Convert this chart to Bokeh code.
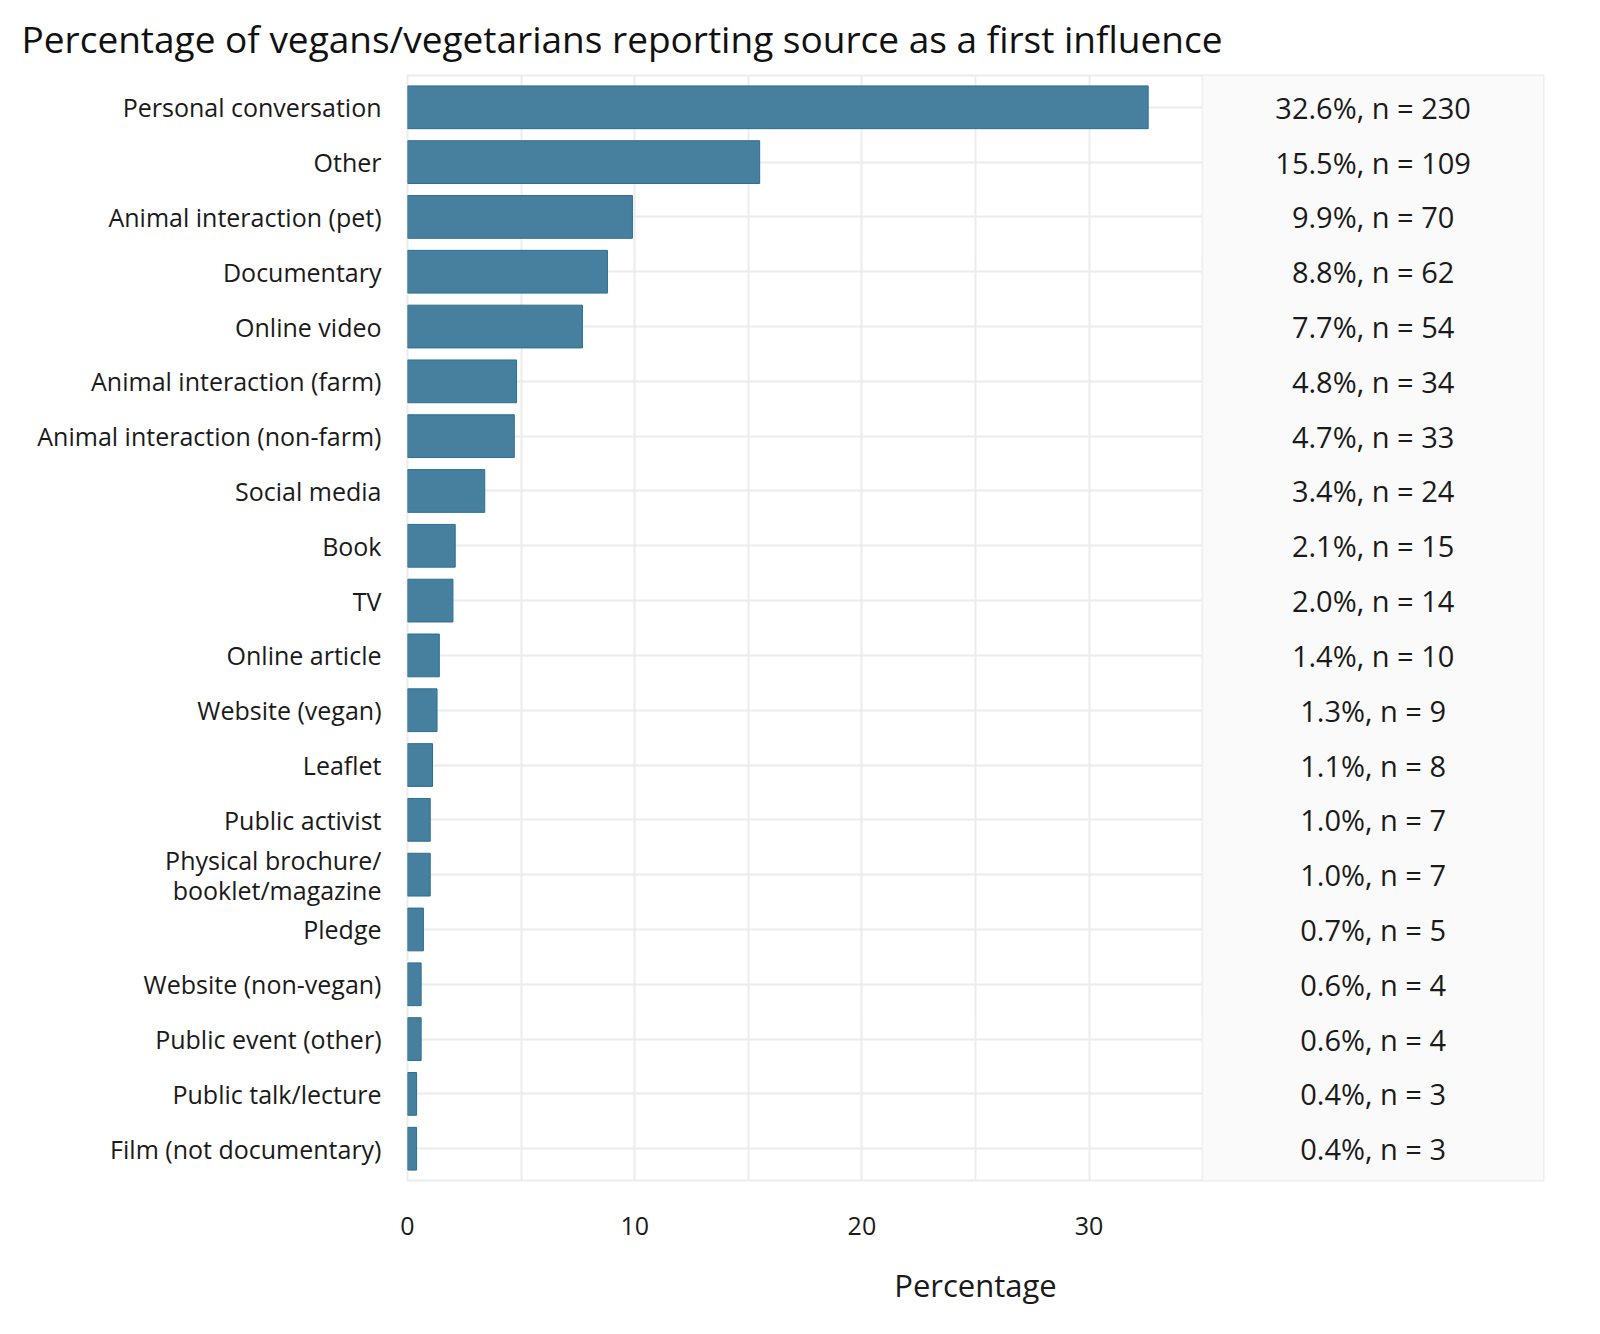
from bokeh.plotting import figure
from bokeh.models import ColumnDataSource, FactorRange, Range1d, FixedTicker, BoxAnnotation
from bokeh.core.properties import value
from bokeh.embed import file_html
from bokeh.resources import INLINE

categories = [
    "Personal conversation", "Other", "Animal interaction (pet)", "Documentary",
    "Online video", "Animal interaction (farm)", "Animal interaction (non-farm)",
    "Social media", "Book", "TV", "Online article", "Website (vegan)", "Leaflet",
    "Public activist", "Physical brochure/\nbooklet/magazine", "Pledge",
    "Website (non-vegan)", "Public event (other)", "Public talk/lecture",
    "Film (not documentary)",
]
percent = [32.6, 15.5, 9.9, 8.8, 7.7, 4.8, 4.7, 3.4, 2.1, 2.0, 1.4, 1.3, 1.1,
           1.0, 1.0, 0.7, 0.6, 0.6, 0.4, 0.4]
counts = [230, 109, 70, 62, 54, 34, 33, 24, 15, 14, 10, 9, 8, 7, 7, 5, 4, 4, 3, 3]
x_ticks = [0, 10, 20, 30]

FONT = "Open Sans"

labels = [f"{p:.1f}%, n = {n}" for p, n in zip(percent, counts)]
src = ColumnDataSource(dict(cat=categories, pct=percent, lab=labels,
                            lx=[42.5] * len(categories)))

p = figure(
    width=1584, height=1318,
    y_range=FactorRange(*categories[::-1], range_padding=0.08,
                        range_padding_units="absolute"),
    x_range=Range1d(0, 50),
    output_backend="svg", toolbar_location=None,
    min_border_left=407, min_border_right=41, min_border_top=75,
    min_border_bottom=138,
)
p.background_fill_color = "white"
p.border_fill_color = "white"
p.outline_line_color = "#ececec"
p.outline_line_width = 2

# grid
p.xgrid.ticker = FixedTicker(ticks=[0, 5, 10, 15, 20, 25, 30, 35])
p.xgrid.grid_line_color = "#ececec"
p.xgrid.grid_line_width = 2
p.ygrid.grid_line_color = "#ececec"
p.ygrid.grid_line_width = 2

# right-hand panel
panel = BoxAnnotation(left=35, right=50, fill_color="#fafafa", fill_alpha=1.0,
                      line_color="#ececec", line_width=1, level="underlay")
p.add_layout(panel)

p.hbar(y="cat", left=0, right="pct", height=0.78, source=src,
       fill_color="#46809e", line_color="#2b6f8f", line_width=1)

p.text(x="lx", y="cat", text="lab", source=src, text_align="center",
       text_baseline="middle", text_font=value(FONT),
       text_font_size=value("29px"), text_color="#1a1a1a")

# axes
p.xaxis.ticker = FixedTicker(ticks=x_ticks)
p.xaxis.axis_label = "Percentage"
for ax in (p.xaxis[0], p.yaxis[0]):
    ax.axis_line_color = None
    ax.major_tick_line_color = None
    ax.minor_tick_line_color = None
    ax.major_label_text_font = FONT
    ax.major_label_text_font_size = "25px"
    ax.major_label_text_color = "#1a1a1a"
p.yaxis.major_label_text_line_height = 0.88
p.xaxis.major_label_standoff = 30
p.yaxis.major_label_standoff = 20
p.xaxis.axis_label_text_font = FONT
p.xaxis.axis_label_text_font_size = "31px"
p.xaxis.axis_label_text_font_style = "normal"
p.xaxis.axis_label_text_color = "#1a1a1a"
p.xaxis.axis_label_standoff = 26

p.title.text = "Percentage of vegans/vegetarians reporting source as a first influence"
p.title.text_font = FONT
p.title.text_font_size = "37px"
p.title.text_font_style = "normal"
p.title.text_color = "#111111"
p.title.align = "left"
p.title.vertical_align = "top"
p.title.offset = -386
p.title.standoff = 19

open("out.html", "w").write(file_html(p, INLINE))
